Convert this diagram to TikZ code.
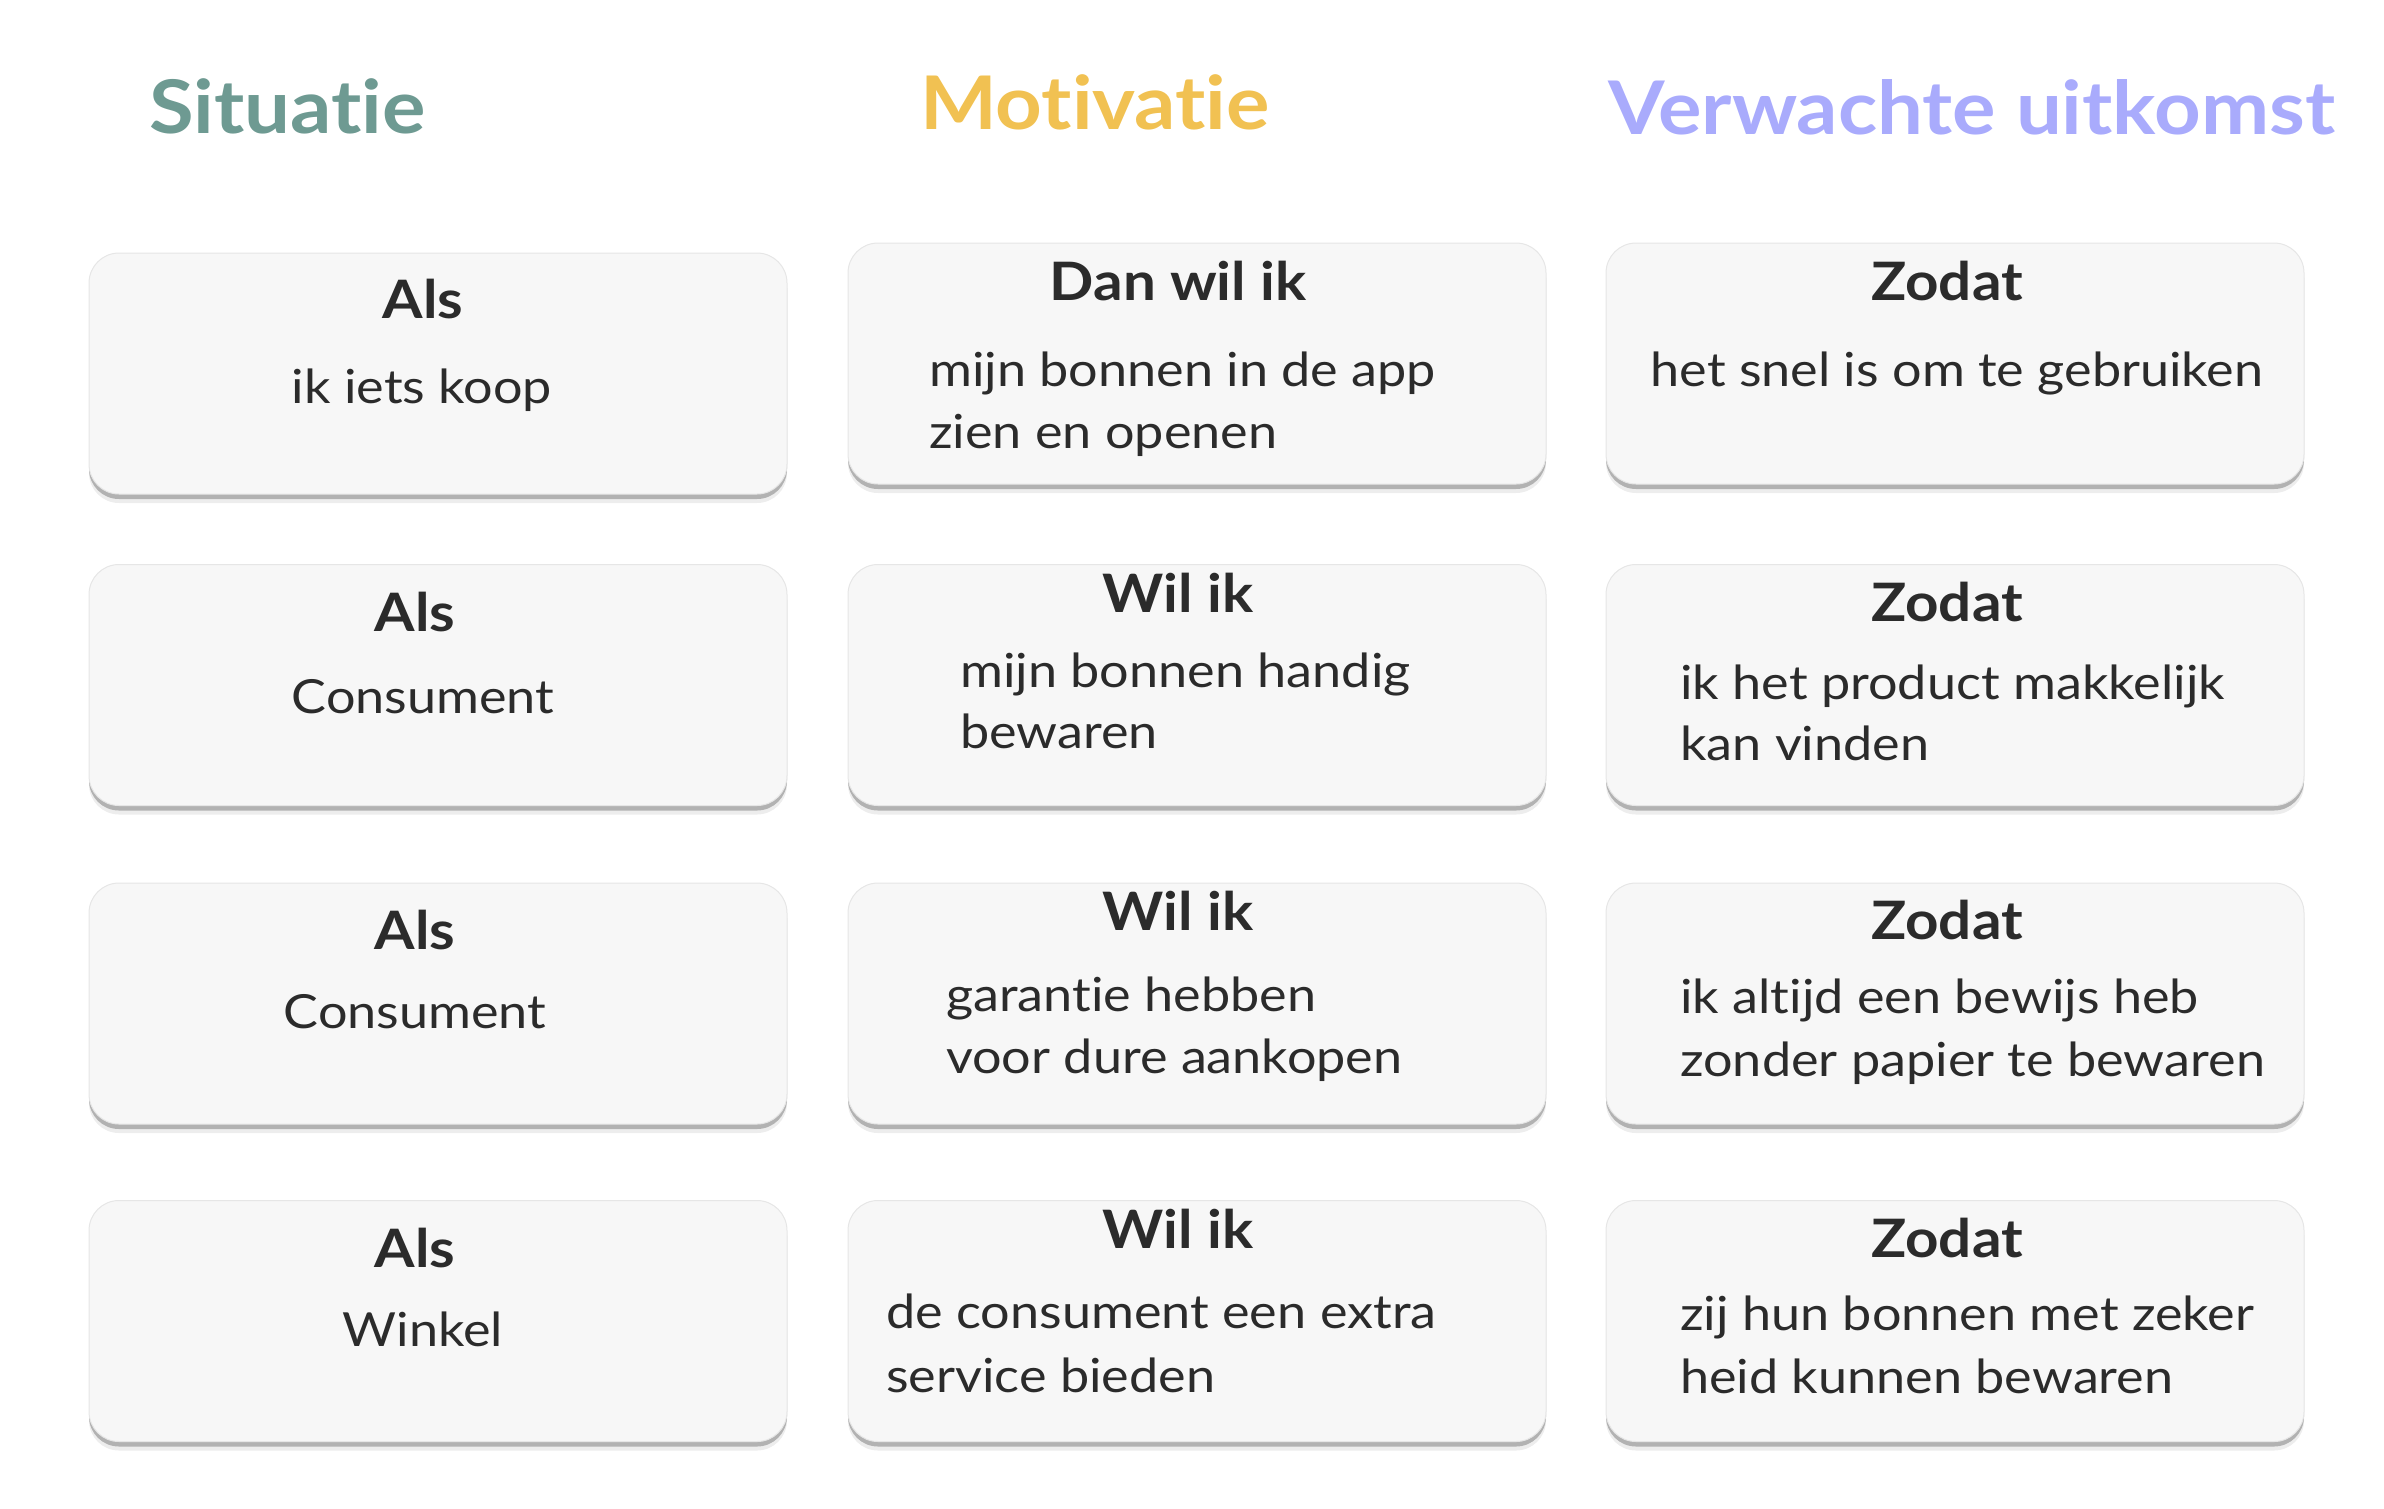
\documentclass[tikz,border=0pt]{standalone}
\usepackage{fontspec}
\setmainfont{Lato}[Ligatures=NoCommon,Contextuals=NoAlternate]
\newfontfamily\kopfont{Lato}[FakeStretch=1.10,Ligatures=NoCommon,Contextuals=NoAlternate]
\newfontfamily\tekstfont{Lato}[FakeStretch=1.11,Ligatures=NoCommon,Contextuals=NoAlternate]
\usetikzlibrary{shadows}
\definecolor{situatiekleur}{HTML}{6E9A92}
\definecolor{motivatiekleur}{HTML}{F1C152}
\definecolor{uitkomstkleur}{HTML}{A9ABFC}
\definecolor{tekstkleur}{HTML}{2B2B2B}
\definecolor{kaartvulling}{HTML}{F7F7F7}
\definecolor{kaartrand}{HTML}{E6E6E6}

\begin{document}
\begin{tikzpicture}[x=1pt,y=-1pt,
    kaart/.style={rounded corners=30pt,fill=kaartvulling,draw=kaartrand,line width=1pt,
        minimum width=698pt,minimum height=241pt,inner sep=0pt,
        drop shadow={shadow xshift=0pt,shadow yshift=-9pt,fill=black,opacity=0.07},
        drop shadow={shadow xshift=0pt,shadow yshift=-5pt,fill=black,opacity=0.25}},
    kop/.style={font=\kopfont\fontsize{74}{80}\selectfont\bfseries,anchor=base west,inner sep=0pt},
    titel/.style={font=\kopfont\fontsize{53}{60}\selectfont\bfseries,text=tekstkleur,anchor=base,inner sep=0pt},
    tekst/.style={font=\tekstfont\fontsize{47}{62}\selectfont,text=tekstkleur,anchor=base west,inner sep=0pt},
    midtekst/.style={tekst,anchor=base}]
    \useasboundingbox (0,0) rectangle (2384,1508);
    % kolomkoppen
    \node[kop,text=situatiekleur] (situatie) at (149,133) {Situatie};
    \node[kop,text=motivatiekleur] (motivatie) at (920,129) {Motivatie};
    \node[kop,text=uitkomstkleur] (uitkomst) at (1608,134) {Verwachte uitkomst};
    % kaarten
    \node[kaart] (s1) at (438,373.5) {};
    \node[kaart] (m1) at (1197,363.5) {};
    \node[kaart] (u1) at (1955,363.5) {};
    \node[kaart] (s2) at (438,685) {};
    \node[kaart] (m2) at (1197,685) {};
    \node[kaart] (u2) at (1955,685) {};
    \node[kaart] (s3) at (438,1003.5) {};
    \node[kaart] (m3) at (1197,1003.5) {};
    \node[kaart] (u3) at (1955,1003.5) {};
    \node[kaart] (s4) at (438,1321) {};
    \node[kaart] (m4) at (1197,1321) {};
    \node[kaart] (u4) at (1955,1321) {};
    % rij 1
    \node[titel] (s1titel) at (423,318) {Als};
    \node[midtekst] (s1tekst) at (422,403) {ik iets koop};
    \node[titel] (m1titel) at (1178,300) {Dan wil ik};
    \node[tekst] (m1a) at (929,386) {mijn bonnen in de app};
    \node[tekst] (m1b) at (929,448) {zien en openen};
    \node[titel] (u1titel) at (1947,300) {Zodat};
    \node[midtekst] (u1tekst) at (1957,386) {het snel is om te gebruiken};
    % rij 2
    \node[titel] (s2titel) at (415,631) {Als};
    \node[midtekst] (s2tekst) at (423,713) {Consument};
    \node[titel] (m2titel) at (1178,612) {Wil ik};
    \node[tekst] (m2a) at (960,687) {mijn bonnen handig};
    \node[tekst] (m2b) at (960,748) {bewaren};
    \node[titel] (u2titel) at (1947,621) {Zodat};
    \node[tekst] (u2a) at (1680,699) {ik het product makkelijk};
    \node[tekst] (u2b) at (1680,760) {kan vinden};
    % rij 3
    \node[titel] (s3titel) at (415,949) {Als};
    \node[midtekst] (s3tekst) at (415,1028) {Consument};
    \node[titel] (m3titel) at (1178,930) {Wil ik};
    \node[tekst] (m3a) at (946,1011) {garantie hebben};
    \node[tekst] (m3b) at (946,1073) {voor dure aankopen};
    \node[titel] (u3titel) at (1947,939) {Zodat};
    \node[tekst] (u3a) at (1680,1013) {ik altijd een bewijs heb};
    \node[tekst] (u3b) at (1680,1076) {zonder papier te bewaren};
    % rij 4
    \node[titel] (s4titel) at (415,1267) {Als};
    \node[midtekst] (s4tekst) at (423,1346) {Winkel};
    \node[titel] (m4titel) at (1178,1248) {Wil ik};
    \node[tekst] (m4a) at (886,1328) {de consument een extra};
    \node[tekst] (m4b) at (886,1392) {service bieden};
    \node[titel] (u4titel) at (1947,1257) {Zodat};
    \node[tekst] (u4a) at (1680,1330) {zij hun bonnen met zeker};
    \node[tekst] (u4b) at (1680,1393) {heid kunnen bewaren};
\end{tikzpicture}
\end{document}
